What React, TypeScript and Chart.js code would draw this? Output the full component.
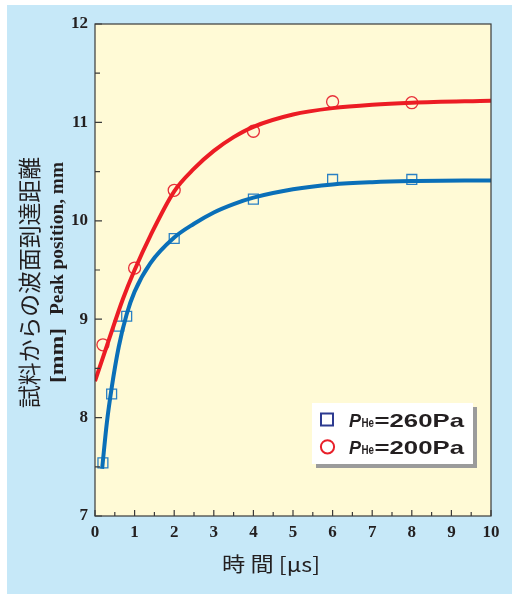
import React, { useEffect, useRef } from 'react';
import { Chart, registerables } from 'chart.js';

Chart.register(...registerables);

// ---- axis ranges / ticks ----
const xMin = 0;
const xMax = 10;
const yMin = 7;
const yMax = 12;
const tickStep = 0.5;

// ---- measured points ----
const blueTimes = [0.2, 0.42, 0.6, 0.8, 2, 4, 6, 8];
const bluePeaks = [7.54, 8.24, 8.93, 9.03, 9.82, 10.22, 10.42, 10.42];
const redTimes = [0.2, 1.0, 2, 4, 6, 8];
const redPeaks = [8.74, 9.52, 10.31, 10.91, 11.21, 11.2];

// ---- fitted curves ----
const blueCurveX = [0.18, 0.3, 0.42, 0.6, 0.8, 1.0, 1.4, 2, 2.5, 3, 3.5, 4, 5, 6, 7, 8, 10];
const blueCurveY = [7.48, 7.95, 8.3, 8.72, 9.05, 9.28, 9.57, 9.83, 9.97, 10.085, 10.17, 10.235, 10.32, 10.37, 10.393, 10.404, 10.41];
const redCurveX = [0, 0.35, 0.7, 1, 1.4, 2, 2.5, 3, 3.5, 4, 5, 6, 7, 8, 10];
const redCurveY = [8.37, 8.79, 9.2, 9.5, 9.85, 10.3, 10.53, 10.71, 10.85, 10.955, 11.08, 11.145, 11.18, 11.2, 11.22];

// ---- texts ----
const yTitleJa = '試料からの波面到達距離';
const yTitleEn = 'Peak position, mm';
const yTitleUnit = '[mm]';
const xTitle = '時 間 [μs]';
const legendSymbol = 'P';
const legendSub = 'He';
const legendLabels = ['=260Pa', '=200Pa'];

// ---- colours ----
const PANEL = '#c6e8f8';
const PLOT = '#fffad6';
const BLUE_LINE = '#0a6fb8';
const RED_LINE = '#ec1c24';
const BLUE_MARK = '#2a80c4';
const RED_MARK = '#e8303a';
const LEG_BLUE = '#2d3a90';
const LEG_RED = '#e8202a';
const INK = '#231f20';
const AXIS = '#3a3a3a';

const OX = 7;
const OY = 5;
const W = 505;
const H = 589;

function drawStretched(
  ctx: CanvasRenderingContext2D,
  text: string,
  cx: number,
  cy: number,
  targetW: number,
  font: string,
  rotate: boolean
) {
  ctx.save();
  ctx.font = font;
  const w = ctx.measureText(text).width;
  ctx.translate(cx - OX, cy - OY);
  if (rotate) ctx.rotate(-Math.PI / 2);
  ctx.scale(targetW / w, 1);
  ctx.textAlign = 'center';
  ctx.textBaseline = 'middle';
  ctx.fillStyle = INK;
  ctx.fillText(text, 0, 0);
  ctx.restore();
}

function drawLeftStretched(
  ctx: CanvasRenderingContext2D,
  text: string,
  x: number,
  baseline: number,
  targetW: number,
  font: string
) {
  ctx.save();
  ctx.font = font;
  const w = ctx.measureText(text).width;
  ctx.translate(x - OX, baseline - OY);
  ctx.scale(targetW / w, 1);
  ctx.textAlign = 'left';
  ctx.textBaseline = 'alphabetic';
  ctx.fillStyle = INK;
  ctx.fillText(text, 0, 0);
  ctx.restore();
}

const decorPlugin = {
  id: 'decor',
  beforeDraw(chart: any) {
    const { ctx, chartArea } = chart;
    ctx.save();
    ctx.fillStyle = PLOT;
    ctx.fillRect(chartArea.left, chartArea.top, chartArea.right - chartArea.left, chartArea.bottom - chartArea.top);
    ctx.restore();
  },
  afterDatasetsDraw(chart: any) {
    const { ctx, chartArea, scales } = chart;
    const { left, right, top, bottom } = chartArea;
    ctx.save();
    ctx.strokeStyle = AXIS;
    ctx.lineWidth = 1.2;
    ctx.beginPath();
    for (const t of scales.y.ticks) {
      const v = t.value;
      const p = scales.y.getPixelForValue(v);
      const major = Math.abs(v - Math.round(v)) < 1e-6;
      const len = major ? 7 : 5;
      ctx.moveTo(left, p);
      ctx.lineTo(left + len, p);
    }
    for (const t of scales.x.ticks) {
      const v = t.value;
      const p = scales.x.getPixelForValue(v);
      const major = Math.abs(v - Math.round(v)) < 1e-6;
      const len = major ? 6 : 4;
      ctx.moveTo(p, bottom);
      ctx.lineTo(p, bottom - len);
    }
    ctx.stroke();
    ctx.strokeRect(left, top, right - left, bottom - top);
    ctx.restore();
  },
  afterDraw(chart: any) {
    const ctx: CanvasRenderingContext2D = chart.ctx;
    // axis titles
    drawStretched(ctx, yTitleJa, 29, 282.5, 251, '23px "Noto Sans CJK JP"', true);
    drawStretched(ctx, yTitleEn, 58, 238.5, 153, 'bold 18px "Liberation Serif"', true);
    drawStretched(ctx, yTitleUnit, 58, 355.5, 55, 'bold 18px "Liberation Serif"', true);
    drawStretched(ctx, xTitle, 271, 564, 98, '20px "Noto Sans CJK JP"', false);

    // legend box
    ctx.save();
    ctx.fillStyle = '#9b9b9b';
    ctx.fillRect(316 - OX, 407 - OY, 161, 61);
    ctx.fillStyle = '#ffffff';
    ctx.fillRect(312 - OX, 403 - OY, 161, 61);
    ctx.lineWidth = 2;
    ctx.strokeStyle = LEG_BLUE;
    ctx.strokeRect(321 - OX, 413.5 - OY, 12, 12);
    ctx.strokeStyle = LEG_RED;
    ctx.beginPath();
    ctx.arc(327.5 - OX, 446.8 - OY, 6.6, 0, Math.PI * 2);
    ctx.stroke();
    ctx.restore();

    const baselines = [427.3, 454];
    legendLabels.forEach((lab, i) => {
      const b = baselines[i];
      drawLeftStretched(ctx, legendSymbol, 349, b, 12, 'italic bold 18.5px "Liberation Sans"');
      drawLeftStretched(ctx, legendSub, 361.5, b, 12.5, 'bold 12.5px "Liberation Sans"');
      drawLeftStretched(ctx, lab, 374.5, b, 89.5, 'bold 18.5px "Liberation Sans"');
    });
  },
};

const tickFont = { family: '"Liberation Serif", "Times New Roman", serif', size: 17, weight: 'bold' as const };

export default function App() {
  const ref = useRef<HTMLCanvasElement | null>(null);

  useEffect(() => {
    const canvas = ref.current;
    if (!canvas) return;
    const chart = new Chart(canvas, {
      type: 'scatter',
      data: {
        datasets: [
          {
            type: 'line',
            label: 'fit 260Pa',
            data: blueCurveX.map((x, i) => ({ x, y: blueCurveY[i] })),
            borderColor: BLUE_LINE,
            borderWidth: 4,
            pointRadius: 0,
            cubicInterpolationMode: 'monotone',
            fill: false,
            order: 1,
          } as any,
          {
            type: 'line',
            label: 'fit 200Pa',
            data: redCurveX.map((x, i) => ({ x, y: redCurveY[i] })),
            borderColor: RED_LINE,
            borderWidth: 4,
            pointRadius: 0,
            cubicInterpolationMode: 'monotone',
            fill: false,
            order: 1,
          } as any,
          {
            label: 'PHe=260Pa',
            data: blueTimes.map((x, i) => ({ x, y: bluePeaks[i] })),
            pointStyle: 'rect',
            pointRadius: 7,
            borderColor: BLUE_MARK,
            backgroundColor: 'rgba(0,0,0,0)',
            borderWidth: 1.3,
            showLine: false,
            order: 2,
          } as any,
          {
            label: 'PHe=200Pa',
            data: redTimes.map((x, i) => ({ x, y: redPeaks[i] })),
            pointStyle: 'circle',
            pointRadius: 6,
            borderColor: RED_MARK,
            backgroundColor: 'rgba(0,0,0,0)',
            borderWidth: 1.3,
            showLine: false,
            order: 2,
          } as any,
        ],
      },
      options: {
        responsive: false,
        maintainAspectRatio: false,
        animation: false,
        events: [],
        layout: { padding: { top: 19, right: 21, left: 0, bottom: 0 } },
        plugins: {
          legend: { display: false },
          tooltip: { enabled: false },
          title: { display: false },
        },
        scales: {
          x: {
            type: 'linear',
            min: xMin,
            max: xMax,
            afterFit: (s: any) => {
              s.height = 78;
            },
            grid: { display: false, drawTicks: false },
            border: { display: false },
            ticks: {
              stepSize: tickStep,
              autoSkip: false,
              maxRotation: 0,
              padding: 6,
              color: INK,
              font: tickFont,
              callback: (v: any) => (Number.isInteger(v) ? String(v) : ''),
            },
          },
          y: {
            type: 'linear',
            min: yMin,
            max: yMax,
            afterFit: (s: any) => {
              s.width = 88;
            },
            grid: { display: false, drawTicks: false },
            border: { display: false },
            ticks: {
              stepSize: tickStep,
              autoSkip: false,
              padding: 7,
              color: INK,
              font: tickFont,
              callback: (v: any) => (Number.isInteger(v) ? String(v) : ''),
            },
          },
        },
      } as any,
      plugins: [decorPlugin],
    });
    return () => chart.destroy();
  }, []);

  return (
    <div style={{ position: 'absolute', left: 0, top: 0, width: 512, height: 594, background: '#ffffff' }}>
      <div style={{ position: 'absolute', left: OX, top: OY, width: W, height: H, background: PANEL }}>
        <canvas ref={ref} width={W} height={H} style={{ width: W, height: H, display: 'block' }} />
      </div>
    </div>
  );
}
